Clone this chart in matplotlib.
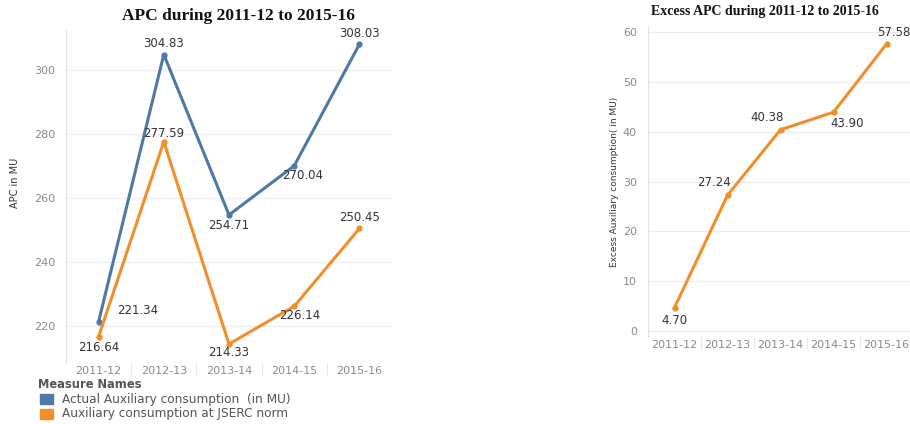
import matplotlib.pyplot as plt
from matplotlib.patches import Rectangle

years = ['2011-12', '2012-13', '2013-14', '2014-15', '2015-16']
actual_apc = [221.34, 304.83, 254.71, 270.04, 308.03]
norm_apc = [216.64, 277.59, 214.33, 226.14, 250.45]
excess_apc = [4.70, 27.24, 40.38, 43.90, 57.58]

BLUE = '#4e79a7'
ORANGE = '#f28e2b'
TICK = '#8a8a8a'
LABEL = '#333333'
GRID = '#ececec'

plt.rcParams['font.family'] = ['DejaVu Sans']

W, H = 910, 424
fig = plt.figure(figsize=(W / 100, H / 100), dpi=100)


def px_axes(x0, y0, x1, y1):
    return fig.add_axes([x0 / W, 1 - y1 / H, (x1 - x0) / W, (y1 - y0) / H])


def style(ax, yticks, ylim):
    x = range(len(years))
    ax.set_xlim(-0.5, len(years) - 0.5)
    ax.set_ylim(*ylim)
    ax.set_xticks(list(x))
    ax.set_xticklabels(years, fontsize=8, color=TICK)
    ax.set_yticks(yticks)
    ax.tick_params(axis='y', labelsize=8, labelcolor=TICK, length=0, pad=8)
    ax.tick_params(axis='x', length=0, pad=2)
    for s in ['top', 'right', 'bottom']:
        ax.spines[s].set_visible(False)
    ax.spines['left'].set_color('#e4e4e4')
    ax.grid(axis='y', color=GRID, lw=0.8)
    ax.set_axisbelow(True)
    # faint column dividers under the axis
    for b in range(1, len(years)):
        ax.plot([b - 0.5, b - 0.5], [0, -0.035], transform=ax.get_xaxis_transform(),
                color='#e8e8e8', lw=0.8, clip_on=False)


def label(ax, i, v, txt, dx, dy, color=LABEL):
    ax.annotate(txt, (i, v), xytext=(dx, dy), textcoords='offset points',
                ha='center', va='center', fontsize=8.5, color=color)


# ---- left chart ----
ax1 = px_axes(66, 30, 392, 363)
x = list(range(len(years)))
ax1.plot(x, actual_apc, color=BLUE, lw=2.2, marker='o', ms=3.5)
ax1.plot(x, norm_apc, color=ORANGE, lw=2.2, marker='o', ms=3.5)
style(ax1, [220, 240, 260, 280, 300], (208.4, 312.5))
ax1.set_ylabel('APC in MU', fontsize=7, color=LABEL)
ax1.yaxis.set_label_coords(-0.14, 0.54)

actual_off = [(28, 8), (0, 8), (0, -8), (6, -7), (0, 8)]
norm_off = [(0, -8), (0, 6), (0, -6), (4, -7), (0, 8)]
for i in x:
    label(ax1, i, actual_apc[i], f'{actual_apc[i]:.2f}', *actual_off[i])
    label(ax1, i, norm_apc[i], f'{norm_apc[i]:.2f}', *norm_off[i])

fig.text(238 / W, 1 - 16 / H, 'APC during 2011-12 to 2015-16', ha='center', va='center',
         family='Liberation Serif', weight='bold', fontsize=12.5, color='#111111')

# legend
fig.text(38 / W, 1 - 385 / H, 'Measure Names', fontsize=8.3, weight='bold', color='#555555',
         va='center')
legend_items = ['Actual Auxiliary consumption  (in MU)', 'Auxiliary consumption at JSERC norm']
for k, (name, col) in enumerate(zip(legend_items, [BLUE, ORANGE])):
    yc = 399 + k * 15
    fig.patches.append(Rectangle((40 / W, 1 - (yc + 5) / H), 13 / W, 10 / H,
                                 transform=fig.transFigure, color=col))
    fig.text(62 / W, 1 - yc / H, name, fontsize=8.7, color='#555555', va='center')

# ---- right chart ----
ax2 = px_axes(648, 27, 913, 337)
ax2.plot(x, excess_apc, color=ORANGE, lw=2.2, marker='o', ms=3.5)
style(ax2, [0, 10, 20, 30, 40, 50, 60], (-1.2, 61))
ax2.set_ylabel('Excess Auxiliary consumption( in MU)', fontsize=6.5, color=LABEL)
ax2.yaxis.set_label_coords(-0.11, 0.5)

excess_off = [(0, -9), (-10, 9), (-10, 9), (10, -8), (5, 8)]
for i in x:
    label(ax2, i, excess_apc[i], f'{excess_apc[i]:.2f}', *excess_off[i])

fig.text(765 / W, 1 - 12 / H, 'Excess APC during 2011-12 to 2015-16', ha='center', va='center',
         family='Liberation Serif', weight='bold', fontsize=10, color='#111111')

fig.savefig('out.png', dpi=100)
